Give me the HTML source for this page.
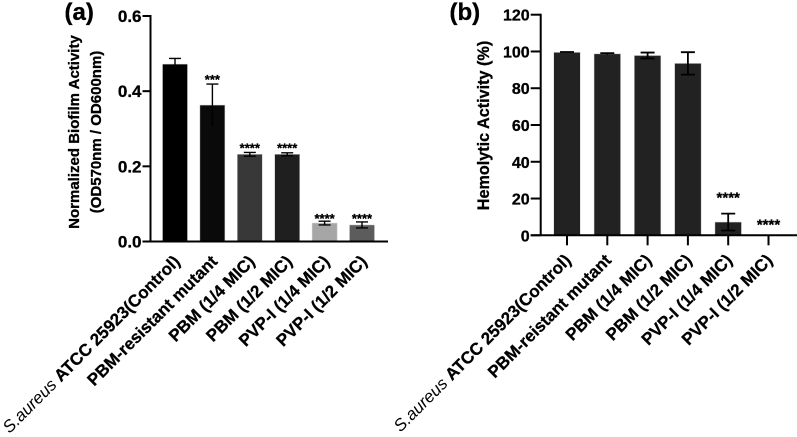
<!DOCTYPE html>
<html>
<head>
<meta charset="utf-8">
<style>
html,body{margin:0;padding:0;background:#fff;width:797px;height:437px;overflow:hidden}
svg{display:block;font-family:"Liberation Sans",Arial,sans-serif;font-weight:bold;fill:#000;filter:blur(0.35px)}
text{stroke:#000;stroke-width:0.3px}
</style>
</head>
<body>
<svg id="figure" width="797" height="437" viewBox="0 0 797 437" xmlns="http://www.w3.org/2000/svg">
  <text x="64.5" y="20" font-size="24">(a)</text>
  <text x="449.5" y="20" font-size="24">(b)</text>
  <g id="chart-a"></g>
  <g id="chart-b"></g>
</svg>
<script>
var categoriesA = ["ATCC 25923(Control)", "PBM-resistant mutant", "PBM  (1/4 MIC)", "PBM  (1/2 MIC)", "PVP-I  (1/4 MIC)", "PVP-I  (1/2 MIC)"];
var valuesA = [0.472, 0.363, 0.232, 0.232, 0.049, 0.044];
var errorsA = [0.015, 0.056, 0.005, 0.004, 0.005, 0.008];
var starsA = ["", "***", "****", "****", "****", "****"];
var starLevelsA = [0, 0.43, 0.248, 0.248, 0.06, 0.06];
var colorsA = ["#000000", "#0a0a0a", "#383838", "#1f1f1f", "#a6a6a6", "#5c5c5c"];
var ticksA = [0, 0.2, 0.4, 0.6];
var tickLabelsA = ["0.0", "0.2", "0.4", "0.6"];

var categoriesB = ["ATCC 25923(Control)", "PBM-reistant mutant", "PBM  (1/4 MIC)", "PBM  (1/2 MIC)", "PVP-I  (1/4 MIC)", "PVP-I  (1/2 MIC)"];
var valuesB = [99.5, 98.7, 97.8, 93.5, 7.2, 0.3];
var errorsB = [0.2, 0.4, 1.6, 6.1, 4.6, 0];
var starsB = ["", "", "", "", "****", "****"];
var starLevelsB = [0, 0, 0, 0, 20.5, 6];
var colorsB = ["#222222", "#222222", "#222222", "#222222", "#222222", "#222222"];
var ticksB = [0, 20, 40, 60, 80, 100, 120];
var tickLabelsB = ["0", "20", "40", "60", "80", "100", "120"];

var NS = "http://www.w3.org/2000/svg";
function make(parent, tag, attrs, txt) {
  var el = document.createElementNS(NS, tag);
  for (var k in attrs) { el.setAttribute(k, attrs[k]); }
  if (txt !== undefined) { el.textContent = txt; }
  parent.appendChild(el);
  return el;
}
function named(el, name) {
  
  
  return el;
}
function drawChart(cfg) {
  var g = document.getElementById(cfg.id);
  var y = function (v) { return cfg.y0 + (cfg.yTop - cfg.y0) * v / cfg.yMax; };
  var x = function (i) { return cfg.x0 + cfg.step * i; };
  cfg.values.forEach(function (v, i) {
    var cx = x(i);
    named(make(g, "rect", {x: cx - cfg.bw / 2, y: y(v), width: cfg.bw, height: cfg.y0 - y(v), fill: cfg.colors[i], stroke: "#cfcfcf", "stroke-width": 0.5}), "bar-" + (i + 1));
    var e = cfg.errors[i];
    if (e > 0) {
      var d = "M" + cx + " " + y(v + e) + "V" + y(v - e) + "M" + (cx - cfg.cap) + " " + y(v + e) + "H" + (cx + cfg.cap);
      if (cfg.lowCap[i]) { d += "M" + (cx - cfg.cap) + " " + y(v - e) + "H" + (cx + cfg.cap); }
      named(make(g, "path", {d: d, fill: "none", stroke: "#000", "stroke-width": cfg.ew}), "error-bar-" + (i + 1));
    }
    if (cfg.stars[i]) {
      named(make(g, "text", {x: cx, y: y(cfg.starLevels[i]) + cfg.starDy, "text-anchor": "middle", "font-size": cfg.starSize}, cfg.stars[i]), "significance-" + (i + 1));
    }
    if (cfg.xTicks) {
      named(make(g, "line", {x1: cx, x2: cx, y1: cfg.y0, y2: cfg.y0 + 10, stroke: "#000", "stroke-width": 2}), "x-tick-" + (i + 1));
    }
    var lx = cx + cfg.labelDx, ly = cfg.y0 + cfg.labelDy;
    var t = named(make(g, "text", {transform: "translate(" + lx + " " + ly + ") rotate(-45)", "text-anchor": "end", "font-size": cfg.labelSize, "xml:space": "preserve"}), "x-label-" + (i + 1));
    if (i === 0) {
      make(t, "tspan", {"font-style": "italic", "font-weight": "normal", "stroke-width": 0}, "S.aureus ");
    }
    make(t, "tspan", {}, cfg.categories[i]);
  });
  named(make(g, "path", {d: "M" + cfg.axisX + " " + (cfg.yTop - 1) + "V" + cfg.y0, fill: "none", stroke: "#000", "stroke-width": 2}), "y-axis");
  named(make(g, "path", {d: "M" + (cfg.axisX - cfg.tick) + " " + cfg.y0 + "H" + cfg.xEnd, fill: "none", stroke: "#000", "stroke-width": 2}), "x-axis");
  cfg.ticks.forEach(function (v, i) {
    named(make(g, "line", {x1: cfg.axisX - cfg.tick, x2: cfg.axisX, y1: y(v), y2: y(v), stroke: "#000", "stroke-width": 2}), "y-tick-" + i);
    named(make(g, "text", {x: cfg.axisX - cfg.tick - 1, y: y(v) + 6, "text-anchor": "end", "font-size": cfg.tickSize}, cfg.tickLabels[i]), "y-tick-label-" + i);
  });
  cfg.titles.forEach(function (tt, i) {
    named(make(g, "text", {transform: "translate(" + tt.x + " " + tt.y + ") rotate(-90)", "text-anchor": "middle", "font-size": tt.size}, tt.text), "y-axis-title-" + (i + 1));
  });
}
drawChart({
  id: "chart-a", x0: 175, step: 37.4, bw: 25, y0: 241.5, yTop: 16, yMax: 0.6, axisX: 150.5, tick: 8, xEnd: 388,
  cap: 6, ew: 1.4, lowCap: [false, false, true, true, true, true], xTicks: false,
  values: valuesA, errors: errorsA, colors: colorsA, stars: starsA, starLevels: starLevelsA,
  starSize: 13, starDy: 4,
  ticks: ticksA, tickLabels: tickLabelsA, categories: categoriesA, tickSize: 17,
  labelDx: 6, labelDy: 21, labelSize: 17,
  titles: [
    {x: 79, y: 132, size: 15, text: "Normalized Biofilm Activity"},
    {x: 101, y: 132, size: 15, text: "(OD570nm / OD600nm)"}
  ]
});
drawChart({
  id: "chart-b", x0: 567, step: 40.3, bw: 26.5, y0: 235.3, yTop: 14.7, yMax: 120, axisX: 540.7, tick: 10, xEnd: 797,
  cap: 7, ew: 1.8, lowCap: [false, false, true, true, true, false], xTicks: true,
  values: valuesB, errors: errorsB, colors: colorsB, stars: starsB, starLevels: starLevelsB,
  starSize: 15, starDy: 5,
  ticks: ticksB, tickLabels: tickLabelsB, categories: categoriesB, tickSize: 16,
  labelDx: 5, labelDy: 26, labelSize: 17,
  titles: [
    {x: 489, y: 125.5, size: 16.2, text: "Hemolytic Activity (%)"}
  ]
});
</script>
</body>
</html>
